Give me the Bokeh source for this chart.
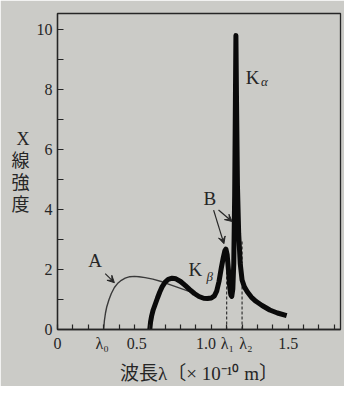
from bokeh.plotting import figure
from bokeh.models import FixedTicker, Label, Arrow, VeeHead
from bokeh.embed import file_html
from bokeh.resources import INLINE

# Curve A (continuous X-rays, lower voltage)
wavelength_A = [0.300, 0.305, 0.312, 0.320, 0.335, 0.350, 0.370, 0.390, 0.415, 0.440,
                0.470, 0.500, 0.530, 0.570, 0.620, 0.680, 0.740, 0.800, 0.860, 0.910,
                0.950, 0.980]
intensity_A = [0.00, 0.30, 0.55, 0.75, 1.00, 1.20, 1.40, 1.53, 1.64, 1.71,
               1.76, 1.77, 1.76, 1.73, 1.68, 1.59, 1.48, 1.37, 1.26, 1.15,
               1.08, 1.04]

# Curve B (higher voltage, with characteristic lines K_beta, K_alpha)
wavelength_B = [0.600, 0.605, 0.612, 0.622, 0.636, 0.650, 0.665, 0.680, 0.700, 0.720,
                0.745, 0.770, 0.800, 0.830, 0.860, 0.890, 0.920, 0.950, 0.975, 1.000,
                1.020, 1.035, 1.050, 1.065, 1.078, 1.088, 1.095, 1.103, 1.112, 1.120,
                1.127, 1.133, 1.140, 1.146, 1.152, 1.157, 1.160, 1.164, 1.170, 1.178,
                1.188, 1.200, 1.215, 1.235, 1.260, 1.290, 1.330, 1.380, 1.430, 1.490]
intensity_B = [0.00, 0.25, 0.45, 0.65, 0.85, 1.05, 1.25, 1.42, 1.58, 1.67,
               1.71, 1.69, 1.60, 1.47, 1.33, 1.20, 1.10, 1.04, 1.03, 1.05,
               1.12, 1.28, 1.60, 2.05, 2.40, 2.62, 2.68, 2.50, 1.95, 1.40,
               1.15, 1.10, 1.35, 2.20, 4.50, 7.80, 9.80, 7.60, 4.80, 3.20,
               2.20, 1.65, 1.42, 1.25, 1.08, 0.94, 0.80, 0.65, 0.55, 0.46]

# lambda_1, lambda_2 guide lines
lambda_marks = [1.1, 1.2]
lambda_tops = [2.3, 3.0]

# x axis: small ticks every 0.1, labels at their own positions
x_minor_ticks = [0, 0.1, 0.2, 0.3, 0.4, 0.5, 0.6, 0.7, 0.8, 0.9,
                 1.0, 1.1, 1.2, 1.3, 1.4, 1.5, 1.6, 1.7, 1.8]
x_label_pos = [0, 0.29, 0.515, 0.965, 1.105, 1.225, 1.5]
x_label_text = ["0", "λ₀", "0.5", "1.0", "λ₁", "λ₂", "1.5"]
y_ticks = [0, 2, 4, 6, 8, 10]
y_minor_ticks = [1, 3, 5, 7, 9]

BG = "#cbcbc7"
INK = "#262626"
SERIF = "Liberation Serif, Noto Sans CJK JP"

p = figure(width=344, height=386, x_range=(0, 1.84), y_range=(0, 10.53),
           output_backend="svg", toolbar_location=None,
           min_border_left=57, min_border_right=4, min_border_top=13, min_border_bottom=56)
p.background_fill_color = BG
p.border_fill_color = BG
p.outline_line_color = INK
p.outline_line_width = 1.3
p.xgrid.visible = False
p.ygrid.visible = False

# x axis
p.xaxis.ticker = FixedTicker(ticks=x_label_pos, minor_ticks=x_minor_ticks)
p.xaxis.major_label_overrides = dict(zip(x_label_pos, x_label_text))
p.xaxis.major_tick_in = 0
p.xaxis.major_tick_out = 0
p.xaxis.minor_tick_in = 5
p.xaxis.minor_tick_out = 0
p.xaxis.axis_line_color = INK
p.xaxis.axis_line_width = 1.3
p.xaxis.minor_tick_line_color = INK
p.xaxis.minor_tick_line_width = 1.2
p.xaxis.major_label_text_font = SERIF
p.xaxis.major_label_text_font_size = "16px"
p.xaxis.major_label_text_color = INK
p.xaxis.major_label_standoff = 5
p.xaxis.axis_label = "波長λ〔× 10⁻¹⁰ m〕"
p.xaxis.axis_label_text_font = SERIF
p.xaxis.axis_label_text_font_size = "19px"
p.xaxis.axis_label_text_font_style = "normal"
p.xaxis.axis_label_text_color = INK
p.xaxis.axis_label_standoff = 8

# y axis
p.yaxis.ticker = FixedTicker(ticks=y_ticks, minor_ticks=y_minor_ticks)
p.yaxis.major_tick_in = 6
p.yaxis.major_tick_out = 0
p.yaxis.minor_tick_in = 6
p.yaxis.minor_tick_out = 0
p.yaxis.axis_line_color = INK
p.yaxis.axis_line_width = 1.3
p.yaxis.major_tick_line_color = INK
p.yaxis.minor_tick_line_color = INK
p.yaxis.major_tick_line_width = 1.2
p.yaxis.minor_tick_line_width = 1.2
p.yaxis.major_label_text_font = SERIF
p.yaxis.major_label_text_font_size = "16px"
p.yaxis.major_label_text_color = INK
p.yaxis.major_label_standoff = 5
p.yaxis.axis_label = "X\n線\n強\n度"
p.yaxis.axis_label_orientation = "horizontal"
p.yaxis.axis_label_text_font = SERIF
p.yaxis.axis_label_text_font_size = "18px"
p.yaxis.axis_label_text_font_style = "normal"
p.yaxis.axis_label_text_line_height = 1.1
p.yaxis.axis_label_text_color = INK
p.yaxis.axis_label_standoff = 4

# guide lines
p.segment(x0=lambda_marks, y0=[0, 0], x1=lambda_marks, y1=lambda_tops,
          line_color=INK, line_width=1.1, line_dash="3 2")

# curves
p.line(wavelength_A, intensity_A, line_color="#3a3a3a", line_width=1.4, line_join="round")
p.line(wavelength_B, intensity_B, line_color="#0a0a0a", line_width=5, line_join="round")

# arrows
arrow_start_x = [0.31, 1.015, 1.047]
arrow_start_y = [1.86, 3.98, 3.98]
arrow_end_x = [0.37, 1.082, 1.135]
arrow_end_y = [1.56, 2.86, 3.60]
for x0, y0, x1, y1 in zip(arrow_start_x, arrow_start_y, arrow_end_x, arrow_end_y):
    p.add_layout(Arrow(x_start=x0, y_start=y0, x_end=x1, y_end=y1,
                       line_color=INK, line_width=1.2,
                       end=VeeHead(size=7, fill_color=INK, line_color=INK)))

# curve labels
def lab(x, y, t, size, style="normal"):
    p.add_layout(Label(x=x, y=y, text=t, text_align="center", text_baseline="middle",
                       text_font=SERIF, text_font_size=size,
                       text_font_style=style, text_color=INK))

lab(0.245, 2.3, "A", "19px")
lab(0.99, 4.35, "B", "19px")
lab(0.897, 2.0, "K", "19px")
lab(0.99, 1.78, "β", "13px", "italic")
lab(1.268, 8.4, "K", "19px")
lab(1.345, 8.27, "α", "13px", "italic")

open("out.html", "w").write(file_html(p, INLINE))
